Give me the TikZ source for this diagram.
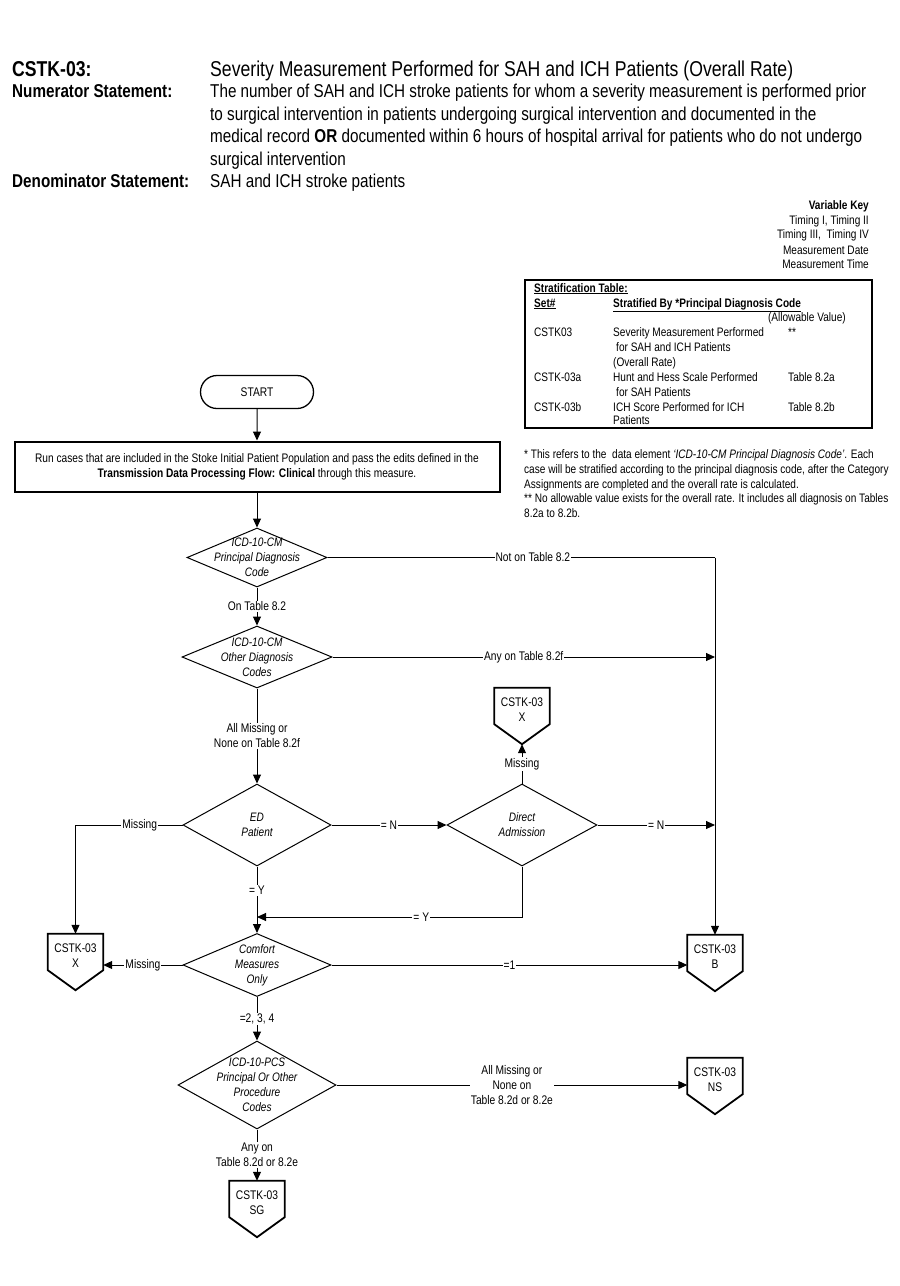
\documentclass[tikz,border=0pt]{standalone}
\usepackage{fontspec}
\setmainfont{Liberation Sans}[FakeStretch=0.82]
\usetikzlibrary{arrows.meta,shapes.geometric,shapes.misc,calc}
\newcommand{\offshape}[1]{%
  \draw[offline] ([yshift=4pt]#1.north west) -- ([yshift=4pt]#1.north east) -- ([yshift=4pt]#1.south east)
    -- ([yshift=-16pt]#1.south) -- ([yshift=4pt]#1.south west) -- cycle;
  \coordinate (#1-tip) at ([yshift=-16pt]#1.south);
  \coordinate (#1-top) at ([yshift=4pt]#1.north);}
\newcommand{\smf}{\fontsize{12.3}{15}\selectfont}
\begin{document}
\begin{tikzpicture}[x=1pt,y=-1pt,
  hdr/.style={anchor=base west,inner sep=0,font=\fontsize{18.6}{22}\selectfont},
  hdrbig/.style={anchor=base west,inner sep=0,font=\fontsize{21.5}{24}\selectfont},
  sm/.style={anchor=base west,inner sep=0,font=\smf},
  smr/.style={anchor=base east,inner sep=0,font=\smf},
  dia/.style={diamond,draw,line width=1pt,inner sep=0},
  dtext/.style={align=center,inner sep=0,font=\itshape\fontsize{12.3}{15}\selectfont},
  lbl/.style={fill=white,inner sep=1pt,align=center,font=\fontsize{12.5}{15}\selectfont},
  ln/.style={line width=1pt},
  arr/.style={line width=1pt,-{Triangle[length=9pt,width=8pt]}},
  offp/.style={rectangle,inner sep=0,minimum width=55pt,minimum height=36pt,align=center,font=\fontsize{12.5}{15}\selectfont},
  offline/.style={line width=1.8pt,line join=miter},
  startbox/.style={rounded rectangle,draw,line width=1.3pt,minimum width=113pt,minimum height=33pt,inner sep=0,font=\fontsize{12.5}{15}\selectfont},
  runbox/.style={rectangle,draw,line width=2pt,minimum width=485pt,minimum height=50pt,inner sep=0,align=center,font=\fontsize{12.4}{15}\selectfont}
]
\useasboundingbox (0,0) rectangle (900,1286);
\fill[white] (0,0) rectangle (900,1286);

% ---------- header ----------
\node[hdrbig,font=\bfseries\fontsize{21.5}{24}\selectfont] (hcode) at (12,76) {CSTK-03:};
\node[hdrbig] (htitle) at (210,76) {Severity Measurement Performed for SAH and ICH Patients (Overall Rate)};
\node[hdr,font=\bfseries\fontsize{18.6}{22}\selectfont] (hnum) at (12,97) {Numerator Statement:};
\node[hdr] (n1) at (210,97) {The number of SAH and ICH stroke patients for whom a severity measurement is performed prior};
\node[hdr] (n2) at (210,120) {to surgical intervention in patients undergoing surgical intervention and documented in the};
\node[hdr] (n3) at (210,142) {medical record \textbf{OR} documented within 6 hours of hospital arrival for patients who do not undergo};
\node[hdr] (n4) at (210,165) {surgical intervention};
\node[hdr,font=\bfseries\fontsize{18.6}{22}\selectfont] (hden) at (12,187) {Denominator Statement:};
\node[hdr] (d1t) at (210,187) {SAH and ICH stroke patients};

% ---------- variable key ----------
\node[smr,font=\bfseries\smf] (vk0) at (869,209) {Variable Key};
\node[smr] (vk1) at (869,224) {Timing I, Timing II};
\node[smr] (vk2) at (869,238) {Timing III,\ \ Timing IV};
\node[smr] (vk3) at (869,254) {Measurement Date};
\node[smr] (vk4) at (869,268) {Measurement Time};

% ---------- stratification table ----------
\draw[line width=1.5pt] (525,280) rectangle (872,428);
\node[sm,font=\bfseries\smf] (st0) at (534,292) {\underline{Stratification Table:}};
\node[sm,font=\bfseries\smf] (st1) at (534,307) {\underline{Set\#}};
\node[sm,font=\bfseries\smf] (st2) at (613,307) {\underline{Stratified By *Principal Diagnosis Code}};
\node[smr] (st3) at (846,321) {(Allowable Value)};
\node[sm] (r1a) at (534,336) {CSTK03};
\node[sm] (r1b) at (613,336) {Severity Measurement Performed};
\node[sm] (r1c) at (788,336) {**};
\node[sm] (r1d) at (616,351) {for SAH and ICH Patients};
\node[sm] (r1e) at (613,366) {(Overall Rate)};
\node[sm] (r2a) at (534,381) {CSTK-03a};
\node[sm] (r2b) at (613,381) {Hunt and Hess Scale Performed};
\node[sm] (r2c) at (788,381) {Table 8.2a};
\node[sm] (r2d) at (616,396) {for SAH Patients};
\node[sm] (r3a) at (534,411) {CSTK-03b};
\node[sm] (r3b) at (613,411) {ICH Score Performed for ICH};
\node[sm] (r3c) at (788,411) {Table 8.2b};
\node[sm] (r3d) at (613,424) {Patients};

% ---------- footnotes ----------
\node[sm] (f1) at (524,458) {* This refers to the\ \ data element \textit{`ICD-10-CM Principal Diagnosis Code'}. Each};
\node[sm] (f2) at (524,473) {case will be stratified according to the principal diagnosis code, after the Category};
\node[sm] (f3) at (524,488) {Assignments are completed and the overall rate is calculated.};
\node[sm] (f4) at (524,502) {** No allowable value exists for the overall rate. It includes all diagnosis on Tables};
\node[sm] (f5) at (524,517) {8.2a to 8.2b.};

% ---------- flowchart nodes ----------
\node[startbox] (start) at (257,392) {START};
\node[runbox] (run) at (257,466.5) {Run cases that are included in the Stoke Initial Patient Population and pass the edits defined in the\\\textbf{Transmission Data Processing Flow: Clinical} through this measure.};

\node[dia,minimum width=140pt,minimum height=59pt] (pd) at (257,557.5) {};
\node[dtext] (pdt) at (pd.center) {ICD-10-CM\\Principal Diagnosis\\Code};
\node[dia,minimum width=150pt,minimum height=62pt] (od) at (257,657) {};
\node[dtext] (odt) at (od.center) {ICD-10-CM\\Other Diagnosis\\Codes};
\node[dia,minimum width=148pt,minimum height=82pt] (ed) at (257,825) {};
\node[dtext] (edt) at (ed.center) {ED\\Patient};
\node[dia,minimum width=150pt,minimum height=82pt] (da) at (522,825) {};
\node[dtext] (dat) at (da.center) {Direct\\Admission};
\node[dia,minimum width=148pt,minimum height=63pt] (cm) at (257,965) {};
\node[dtext] (cmt) at (cm.center) {Comfort\\Measures\\Only};
\node[dia,minimum width=158pt,minimum height=88pt] (pcs) at (257,1085) {};
\node[dtext] (pcst) at (pcs.center) {ICD-10-PCS\\Principal Or Other\\Procedure\\Codes};

\node[offp] (xt) at (522,710) {CSTK-03\\X};
\node[offp] (xl) at (75.5,956) {CSTK-03\\X};
\node[offp] (bb) at (715,957) {CSTK-03\\B};
\node[offp] (ns) at (715,1080) {CSTK-03\\NS};
\node[offp] (sg) at (257,1203) {CSTK-03\\SG};
\offshape{xt}
\offshape{xl}
\offshape{bb}
\offshape{ns}
\offshape{sg}

% ---------- connectors ----------
\coordinate (rc) at (715,557.5);
\coordinate (jy) at (257,917);
\draw[arr] (start) -- (run);
\draw[arr] (run) -- (pd);
\draw[arr] (pd) -- node[lbl]{On Table 8.2} (od);
\draw[ln] (pd.east) -- node[lbl,pos=0.53]{Not on Table 8.2} (rc);
\draw[arr] (rc) -- (bb-top);
\draw[arr] (od.east) -- node[lbl]{Any on Table 8.2f} (od.east -| rc);
\draw[arr] (od) -- node[lbl]{All Missing or\\None on Table 8.2f} (ed);
\draw[arr] (ed) -- node[lbl]{= N} (da);
\draw[arr] (da.east) -- node[lbl]{= N} (da.east -| rc);
\draw[arr] (da.north) -- node[lbl]{Missing} (xt-tip);
\draw[arr] (ed.west) -| node[lbl,pos=0.2]{Missing} (xl-top);
\draw[arr] (da.south) |- node[lbl,pos=0.69]{= Y} (jy);
\draw[arr] (ed) -- node[lbl,pos=0.36]{= Y} (cm);
\draw[arr] (cm.west) -- node[lbl]{Missing} (cm.west -| xl.east);
\draw[arr] (cm.east) -- node[lbl]{=1} (cm.east -| bb.west);
\draw[arr] (cm) -- node[lbl]{=2, 3, 4} (pcs);
\draw[arr] (pcs.east) -- node[lbl]{All Missing or\\None on\\Table 8.2d or 8.2e} (pcs.east -| ns.west);
\draw[arr] (pcs) -- node[lbl]{Any on\\Table 8.2d or 8.2e} (sg-top);
\end{tikzpicture}
\end{document}
